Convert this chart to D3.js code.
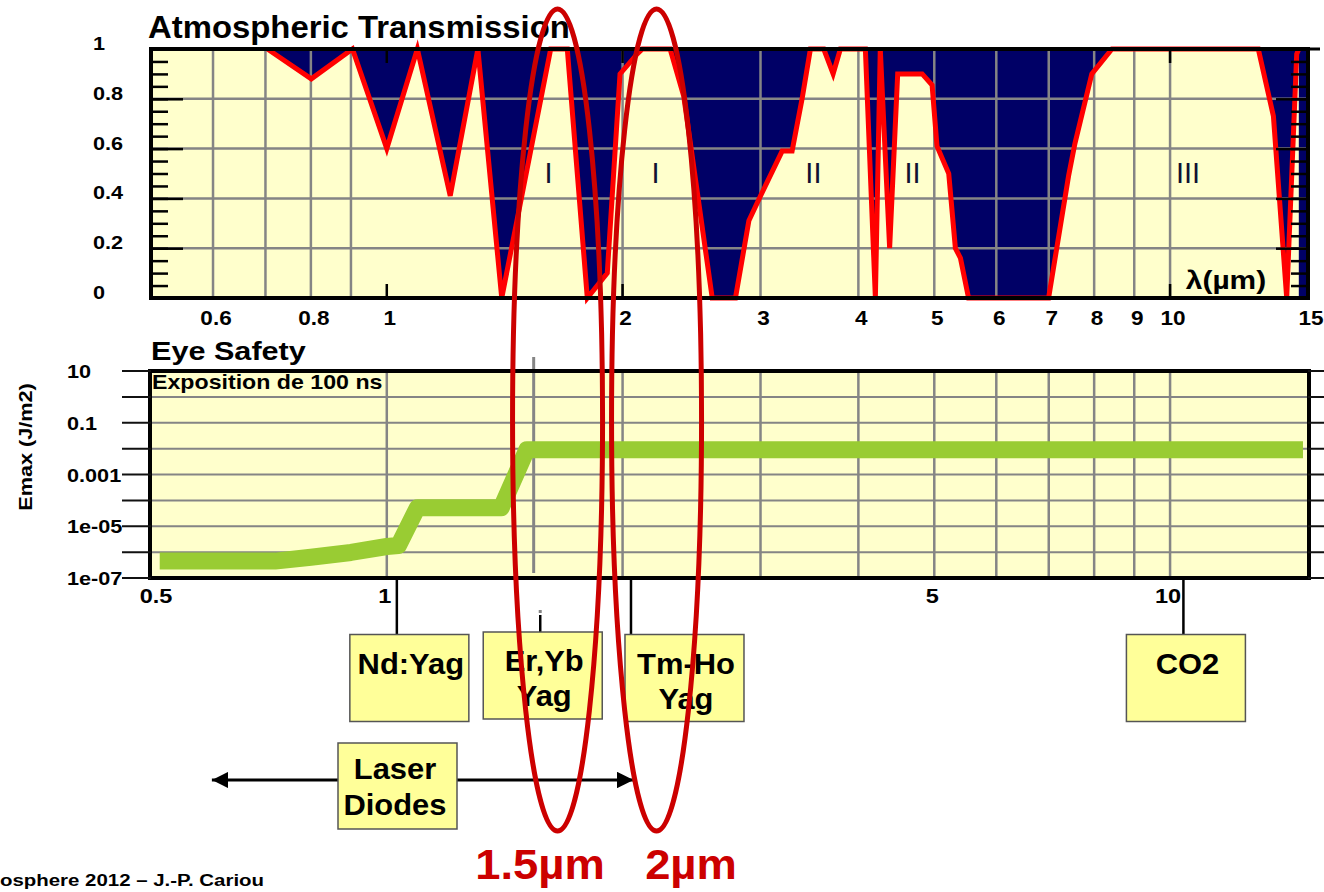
<!DOCTYPE html>
<html>
<head>
<meta charset="utf-8">
<script src="https://cdn.jsdelivr.net/npm/d3@7"></script>
<style>
  body { margin: 0; background: #fff; }
  svg text { font-family: "Liberation Sans", Arial, sans-serif; }
</style>
</head>
<body>
<div id="chart"></div>
<script>
// atmospheric transmission
var transWavelengths = [0.5, 0.704, 0.801, 0.904, 1.0, 1.094, 1.205, 1.307, 1.402, 1.619, 1.70, 1.803, 1.912, 1.985, 2.088, 2.12, 2.30, 2.394, 2.603, 2.787, 2.899, 3.0, 3.197, 3.292, 3.39, 3.474, 3.613, 3.714, 3.794, 4.083, 4.205, 4.266, 4.385, 4.49, 4.825, 4.968, 5.04, 5.217, 5.32, 5.40, 5.53, 6.997, 7.42, 7.56, 7.945, 8.43, 12.96, 13.55, 14.09, 14.51, 14.6]
var transValues = [1, 1, 0.88, 1, 0.60, 1, 0.41, 1, 0, 1, 1, 0, 0.1, 0.9, 0.98, 1, 1, 0.81, 0, 0, 0.31, 0.41, 0.59, 0.59, 0.8, 1, 1, 0.9, 1, 1, 0, 1, 0.2, 0.9, 0.9, 0.855, 0.61, 0.5, 0.2, 0.16, 0, 0, 0.49, 0.62, 0.9, 1, 1, 0.73, 0, 0.98, 1]

var bandLabels = ["I", "I", "II", "II", "III"]
var bandWavelengths = [1.609, 2.203, 3.505, 4.69, 10.54]

var topXTicks = [0.6, 0.8, 1, 2, 3, 4, 5, 6, 7, 8, 9, 10, 15]
var topXGrid = [0.6, 0.7, 0.8, 0.9, 2, 3, 4, 5, 6, 7, 8, 9, 10]
var topYLabels = ["0", "0.2", "0.4", "0.6", "0.8", "1"]

// eye safety (Emax, J/m2, 100 ns exposure)
var eyeWavelengths = [0.513, 0.72, 0.80, 0.90, 1.0, 1.035, 1.094, 1.40, 1.509, 14.78]
var eyeEmax = [4.5e-7, 4.5e-7, 6.3e-7, 9.7e-7, 1.65e-6, 1.8e-6, 5.2e-5, 5.2e-5, 0.009, 0.009]

var eyeXTicks = [0.5, 1, 5, 10]
var eyeXGrid = [1, 2, 3, 4, 5, 6, 7, 8, 9, 10]
var eyeYLabels = ["10", "0.1", "0.001", "1e-05", "1e-07"]

// laser sources
var laserNames = [["Nd:Yag"], ["Er,Yb", "Yag"], ["Tm-Ho", "Yag"], ["CO2"]]
var laserWavelengths = [1.03, 1.57, 2.05, 10.4]
var diodeRange = [0.598, 2.065]
var highlightWavelengths = [1.652, 2.21]
var highlightLabels = ["1.5µm", "2µm"]

;(function () {

  var width = 1324, height = 892

  var svg = d3.select("#chart").append("svg")
      .attr("width", width)
      .attr("height", height)

  var x = d3.scaleLog().domain([0.5, 15]).range([151, 1308])
  var yT = d3.scaleLinear().domain([0, 1]).range([298, 49])
  var yE = d3.scaleLog().domain([1e-7, 10]).range([578, 371])

  var navy = "#000066", paper = "#ffffcc", grid = "#858585"

  // stretch a text horizontally by k
  function stretch(sel, k) {
    sel.each(function () {
      var w = this.getComputedTextLength()
      d3.select(this).attr("textLength", w * k).attr("lengthAdjust", "spacingAndGlyphs")
    })
  }

  // ---------- top: atmospheric transmission ----------
  var trans = transWavelengths.map(function (w, i) { return { wl: w, t: transValues[i] } })
  var top = svg.append("g")

  top.append("rect")
    .attr("x", x(0.5)).attr("y", yT(1))
    .attr("width", x(15) - x(0.5)).attr("height", yT(0) - yT(1))
    .attr("fill", navy)

  top.append("path").datum(trans)
    .attr("fill", paper)
    .attr("d", d3.area()
      .x(function (d) { return x(d.wl) })
      .y0(yT(0))
      .y1(function (d) { return yT(d.t) }))

  top.selectAll(".hgrid")
    .data([0.2, 0.4, 0.6, 0.8])
    .enter().append("line")
    .attr("x1", x(0.5)).attr("x2", x(15))
    .attr("y1", function (d) { return yT(d) })
    .attr("y2", function (d) { return yT(d) })
    .attr("stroke", grid).attr("stroke-width", 2.5)

  top.selectAll(".vgrid")
    .data(topXGrid)
    .enter().append("line")
    .attr("x1", function (d) { return x(d) })
    .attr("x2", function (d) { return x(d) })
    .attr("y1", yT(1)).attr("y2", yT(0))
    .attr("stroke", grid).attr("stroke-width", 2.5)

  top.append("path").datum(trans)
    .attr("fill", "none")
    .attr("stroke", "#ff0000")
    .attr("stroke-width", 5)
    .attr("stroke-linejoin", "miter")
    .attr("d", d3.line()
      .defined(function (d) { return d.wl >= 0.7 })
      .x(function (d) { return x(d.wl) })
      .y(function (d) { return yT(d.t) }))

  var minor = d3.range(0, 1.001, 0.05)
  var major = [0, 0.2, 0.4, 0.6, 0.8, 1]

  function tickAxis(axis, size, vals, tx) {
    top.append("g")
      .attr("transform", "translate(" + tx + ",0)")
      .call(axis(yT).tickValues(vals).tickSize(size).tickFormat(""))
      .call(function (g) { g.select(".domain").remove() })
      .selectAll("line").attr("stroke", "#000").attr("stroke-width", 2.5)
  }
  tickAxis(d3.axisRight, 17, minor, x(0.5))
  tickAxis(d3.axisRight, 32, major, x(0.5))
  tickAxis(d3.axisLeft, 17, minor, x(15))
  tickAxis(d3.axisLeft, 32, major, x(15))

  top.selectAll(".xmaj")
    .data([1, 2, 10])
    .enter().append("path")
    .attr("d", function (d) {
      return "M" + x(d) + "," + yT(1) + "v14M" + x(d) + "," + yT(0) + "v-14"
    })
    .attr("stroke", "#000").attr("stroke-width", 2.5)

  top.append("rect")
    .attr("x", x(0.5)).attr("y", yT(1))
    .attr("width", x(15) - x(0.5)).attr("height", yT(0) - yT(1))
    .attr("fill", "none").attr("stroke", "#000").attr("stroke-width", 4)
  top.append("line")
    .attr("x1", x(15)).attr("x2", 1320).attr("y1", yT(1)).attr("y2", yT(1))
    .attr("stroke", "#000").attr("stroke-width", 3)

  top.selectAll(".ylab")
    .data(topYLabels)
    .enter().append("text")
    .attr("x", 93)
    .attr("y", function (d) { return yT(+d) + 1 })
    .attr("font-size", 19).attr("font-weight", "bold")
    .text(function (d) { return d })
    .call(stretch, 1.14)

  top.selectAll(".xlab")
    .data(topXTicks)
    .enter().append("text")
    .attr("x", function (d) { return x(d) + 3 })
    .attr("y", 325)
    .attr("text-anchor", "middle")
    .attr("font-size", 20.5).attr("font-weight", "bold")
    .text(function (d) { return d })
    .call(stretch, 1.1)

  top.selectAll(".band")
    .data(bandLabels)
    .enter().append("text")
    .attr("x", function (d, i) { return x(bandWavelengths[i]) })
    .attr("y", yT(0.46))
    .attr("text-anchor", "middle")
    .attr("font-size", 29)
    .attr("fill", "#111133")
    .text(function (d) { return d })

  top.append("text")
    .attr("x", 1226).attr("y", 289)
    .attr("text-anchor", "middle")
    .attr("font-size", 26).attr("font-weight", "bold")
    .text("λ(µm)")
    .call(stretch, 1.15)

  svg.append("text")
    .attr("x", 148).attr("y", 38)
    .attr("font-size", 31).attr("font-weight", "bold")
    .text("Atmospheric Transmission")
    .call(stretch, 1.06)

  // ---------- bottom: eye safety ----------
  var eye = eyeWavelengths.map(function (w, i) { return { wl: w, e: eyeEmax[i] } })
  var bot = svg.append("g")
  var decades = d3.range(-7, 2).map(function (p) { return Math.pow(10, p) })

  bot.append("rect")
    .attr("x", x(0.5)).attr("y", yE(10))
    .attr("width", x(15) - x(0.5)).attr("height", yE(1e-7) - yE(10))
    .attr("fill", paper)

  bot.selectAll(".hgrid")
    .data(decades)
    .enter().append("line")
    .attr("x1", x(0.5)).attr("x2", x(15))
    .attr("y1", function (d) { return yE(d) })
    .attr("y2", function (d) { return yE(d) })
    .attr("stroke", grid).attr("stroke-width", 2)

  bot.selectAll(".vgrid")
    .data(eyeXGrid)
    .enter().append("line")
    .attr("x1", function (d) { return x(d) })
    .attr("x2", function (d) { return x(d) })
    .attr("y1", yE(10)).attr("y2", yE(1e-7))
    .attr("stroke", grid).attr("stroke-width", 2.5)

  bot.append("line")
    .attr("x1", x(1.54)).attr("x2", x(1.54))
    .attr("y1", 357).attr("y2", 573)
    .attr("stroke", grid).attr("stroke-width", 3)

  bot.append("path").datum(eye)
    .attr("fill", "none")
    .attr("stroke", "#99cc33")
    .attr("stroke-width", 17)
    .attr("stroke-linejoin", "round")
    .attr("d", d3.line()
      .x(function (d) { return x(d.wl) })
      .y(function (d) { return yE(d.e) }))

  bot.append("rect")
    .attr("x", x(0.5) - 1).attr("y", yE(10))
    .attr("width", x(15) - x(0.5) + 2).attr("height", yE(1e-7) - yE(10))
    .attr("fill", "none").attr("stroke", "#000").attr("stroke-width", 4)

  bot.selectAll(".ytick")
    .data(decades)
    .enter().append("path")
    .attr("d", function (d) {
      return "M122," + yE(d) + "H" + x(0.5) + "M" + x(15) + "," + yE(d) + "H1324"
    })
    .attr("stroke", "#111").attr("stroke-width", 2)

  bot.selectAll(".ylab")
    .data(eyeYLabels)
    .enter().append("text")
    .attr("x", 67)
    .attr("y", function (d) { return yE(+d) + 7 })
    .attr("font-size", 19).attr("font-weight", "bold")
    .text(function (d) { return d })
    .call(stretch, 1.14)

  bot.selectAll(".xlab")
    .data(eyeXTicks)
    .enter().append("text")
    .attr("x", function (d) { return x(d) + (d === 0.5 ? 5 : -2) })
    .attr("y", 603)
    .attr("text-anchor", "middle")
    .attr("font-size", 21).attr("font-weight", "bold")
    .text(function (d) { return d })
    .call(stretch, 1.12)

  bot.append("text")
    .attr("x", 152).attr("y", 389)
    .attr("font-size", 20.5).attr("font-weight", "bold")
    .text("Exposition de 100 ns")
    .call(stretch, 1.13)

  svg.append("text")
    .attr("x", 151).attr("y", 360)
    .attr("font-size", 25.5).attr("font-weight", "bold")
    .text("Eye Safety")
    .call(stretch, 1.2)

  svg.append("text")
    .attr("transform", "translate(32,447) rotate(-90)")
    .attr("text-anchor", "middle")
    .attr("font-size", 19).attr("font-weight", "bold")
    .text("Emax (J/m2)")
    .call(stretch, 1.14)

  // ---------- laser sources ----------
  var boxOffset = [-47, -57, -6, -57]
  var lineTop = [yE(1e-7), 615, yE(1e-7), yE(1e-7)]

  svg.selectAll(".lline")
    .data(laserWavelengths)
    .enter().append("line")
    .attr("x1", function (d) { return x(d) })
    .attr("x2", function (d) { return x(d) })
    .attr("y1", function (d, i) { return lineTop[i] })
    .attr("y2", 634)
    .attr("stroke", "#000").attr("stroke-width", 2.5)

  svg.append("rect")
    .attr("x", x(1.57) - 1.5).attr("y", 610).attr("width", 3).attr("height", 3)
    .attr("fill", grid)

  var boxes = svg.selectAll(".lbox")
    .data(laserNames)
    .enter().append("g")
    .attr("transform", function (d, i) {
      return "translate(" + (x(laserWavelengths[i]) + boxOffset[i]) + "," + (i === 1 ? 632 : 634.5) + ")"
    })

  boxes.append("rect")
    .attr("width", 119).attr("height", 87)
    .attr("fill", "#ffff99").attr("stroke", "#555").attr("stroke-width", 1.5)

  boxes.selectAll("text")
    .data(function (d) { return d })
    .enter().append("text")
    .attr("x", 61)
    .attr("y", function (d, i) { return 39 + i * 35 })
    .attr("text-anchor", "middle")
    .attr("font-size", 30).attr("font-weight", "bold")
    .text(function (d) { return d })
    .call(stretch, 1.03)

  // laser diodes arrow
  svg.append("defs").append("marker")
    .attr("id", "arrow")
    .attr("viewBox", "0 0 10 10")
    .attr("refX", 10).attr("refY", 5)
    .attr("markerWidth", 5.5).attr("markerHeight", 5.5)
    .attr("orient", "auto-start-reverse")
    .append("path").attr("d", "M0,0L10,5L0,10z").attr("fill", "#000")

  svg.append("line")
    .attr("x1", x(diodeRange[0])).attr("x2", x(diodeRange[1]))
    .attr("y1", 780).attr("y2", 780)
    .attr("stroke", "#000").attr("stroke-width", 3)
    .attr("marker-start", "url(#arrow)")
    .attr("marker-end", "url(#arrow)")

  var diode = svg.append("g").attr("transform", "translate(338,743)")
  diode.append("rect")
    .attr("width", 119).attr("height", 86)
    .attr("fill", "#ffff99").attr("stroke", "#555").attr("stroke-width", 1.5)
  diode.selectAll("text")
    .data(["Laser", "Diodes"])
    .enter().append("text")
    .attr("x", 57)
    .attr("y", function (d, i) { return 36 + i * 36 })
    .attr("text-anchor", "middle")
    .attr("font-size", 30).attr("font-weight", "bold")
    .text(function (d) { return d })
    .call(stretch, 1.03)

  // ---------- highlight ellipses ----------
  svg.selectAll(".hl")
    .data(highlightWavelengths)
    .enter().append("ellipse")
    .attr("cx", function (d) { return x(d) })
    .attr("cy", 420)
    .attr("rx", 45).attr("ry", 411)
    .attr("fill", "none")
    .attr("stroke", "#cc0000").attr("stroke-width", 5)

  svg.selectAll(".hllab")
    .data(highlightLabels)
    .enter().append("text")
    .attr("x", function (d, i) { return i === 0 ? 540 : 691 })
    .attr("y", 879)
    .attr("text-anchor", "middle")
    .attr("font-size", 42).attr("font-weight", "bold")
    .attr("fill", "#cc0000")
    .text(function (d) { return d })
    .call(stretch, 1.08)

  svg.append("text")
    .attr("x", 0).attr("y", 886)
    .attr("font-size", 16).attr("font-weight", "bold")
    .text("osphere 2012 – J.-P. Cariou")
    .attr("textLength", 264).attr("lengthAdjust", "spacingAndGlyphs")

})()
</script>
</body>
</html>
